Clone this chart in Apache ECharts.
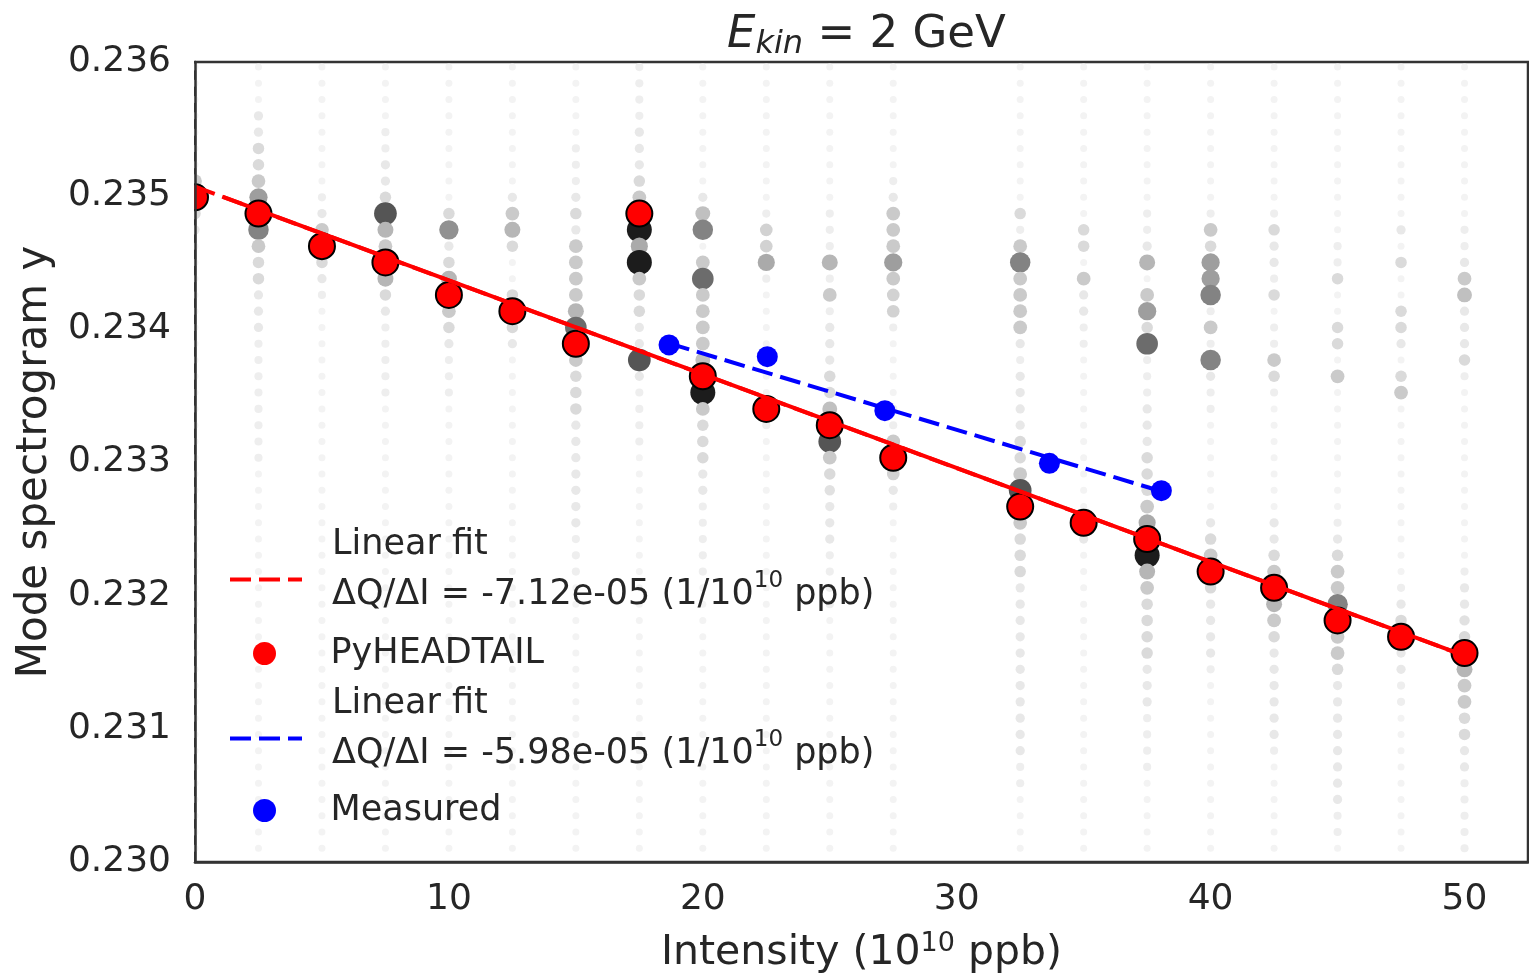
<!DOCTYPE html>
<html><head><meta charset="utf-8">
<script src="https://cdn.jsdelivr.net/npm/echarts@6/dist/echarts.min.js"></script>
<style>html,body{margin:0;padding:0;background:#fff}#c{width:1529px;height:976px}</style>
</head><body><div id="c"></div>
<script>
// Intensity columns of the spectrogram (10^10 ppb)
const intensityCols = [0,2.5,5,7.5,10,12.5,15,17.5,20,22.5,25,27.5,32.5,35,37.5,40,42.5,45,47.5,50];
// Tune bins of the spectrogram, top to bottom
const binTunes = [0.235962,0.235840,0.235718,0.235596,0.235474,0.235352,0.235229,0.235107,0.234985,0.234863,
  0.234741,0.234619,0.234497,0.234375,0.234253,0.234131,0.234009,0.233887,0.233765,0.233643,
  0.233521,0.233398,0.233276,0.233154,0.233032,0.232910,0.232788,0.232666,0.232544,0.232422,
  0.232300,0.232178,0.232056,0.231934,0.231812,0.231689,0.231567,0.231445,0.231323,0.231201,
  0.231079,0.230957,0.230835,0.230713,0.230591,0.230469,0.230347,0.230225,0.230103];
// Spectral amplitude level (1 faint .. 9 strong) per bin, one array per intensity column
const col_0    = [1,1,1,1,1,1,1,4,9,3, 2,1,1,1,1,1,1,1,1,1, 1,1,1,1,1,1,1,1,1,1, 1,1,1,1,1,1,1,1,1,1, 1,1,1,1,1,1,1,1,1];
const col_2_5  = [1,1,1,2,2,3,3,4,6,9, 7,4,3,3,2,2,2,1.5,1.5,1.5, 1.5,1.5,1.5,1.5,1.5,1,1,1,1,1, 1,1,1,1,1,1,1,1,1,1, 1,1,1,1,1,1,1,1,1];
const col_5    = [1,1,1,1,1,1,1,1,1.5,2, 4,9,3,2,1.5,1,1,1,1,1, 1,1,1,1,1,1,1,1,1,1, 1,1,1,1,1,1,1,1,1,1, 1,1,1,1,1,1,1,1,1];
const col_7_5  = [1,1,1,1,1.5,1.5,2,2,3,8, 5,4,9,5,3,2,1.5,1.5,1.5,1.5, 1.5,1,1,1,1,1,1,1,1,1, 1,1,1,1,1,1,1,1,1,1, 1,1,1,1,1,1,1,1,1];
const col_10   = [1,1,1,1,1,1,1,1,1,3, 6.5,2,3,5,9,4,3,2,1.5,1.5, 1.5,1,1,1,1,1,1,1,1,1, 1,1,1,1,1,1,1,1,1,1, 1,1,1,1,1,1,1,1,1];
const col_12_5 = [1,1,1,1,1,1,1,1,2,4, 5,3,1,1,3,9,3,2,1,1, 1,1,1,1,1,1,1,1,1,1, 1,1,1,1,1,1,1,1,1,1, 1,1,1,1,1,1,1,1,1];
const col_15   = [1,1,1,1,1,1.5,1.5,1.5,2,3, 2,4,4,4,4,5,7.5,9,4,3, 3,3,2,2,2,2,2,2,2,1.5, 1.5,1.5,1,1,1,1,1,1,1,1, 1,1,1,1,1,1,1,1,1];
const col_17_5 = [1.5,1.5,1.5,1.5,2,2,2,3,4,9, 9,5.5,9,4,3,3,2,2,8,2, 1.5,1.5,1.5,1.5,1,1,1,1,1,1, 1,1,1,1,1,1,1,1,1,1, 1,1,1,1,1,1,1,1,1];
const col_20   = [1,1,1,1,1,1,1,1,2,4.5, 7,1,4,7.5,4,4,4,4,4.5,9, 9,4,3,3,3,2,2,1.5,1.5,1.5, 1.5,1.5,1,1,1,1,1,1,1,1, 1,1,1,1,1,1,1,1,1];
const col_22_5 = [1,1,1,1,1,1,1,1,1,1.5, 3.5,3.5,5.5,1.5,1,1,1,1,1,1, 1,9,1.5,1,1,1,1,1,1,1, 1,1,1,1,1,1,1,1,1,1, 1,1,1,1,1,1,1,1,1];
const col_25   = [1,1,1,1,1,1,1,1,1,1.5, 1.5,1.5,5,1.5,4,1.5,2,2,2,3, 3,4.5,9,8,4,3,2.5,2,2,2, 1.5,1.5,1.5,1.5,1,1,1,1,1,1, 1,1,1,1,1,1,1,1,1];
const col_27_5 = [1,1,1,1,1,1,1,1.5,2,4, 4,4,6,4,3.5,3.5,1.5,1,1,1, 1,1.5,1.5,4,9,3.5,2,1.5,1,1, 1,1,1,1,1,1,1,1,1,1, 1,1,1,1,1,1,1,1,1];
const col_32_5 = [1,1,1,1,1,1,1,1,1,3, 1.5,4,7,4,4,4,4,2,1.5,2, 2,2,2,3,3,4,8,9,4,3, 3,3,2,2,2,2,2,2,2,2, 2,2,2,1.5,1.5,1,1,1,1];
const col_35   = [1,1,1,1,1,1,1,1,1,1, 3,3,1,4,2,2,1.5,1.5,1,1, 1,1,1,1,1,1,1,1,9,2, 1,1,1,1,1,1,1,1,1,1, 1,1,1,1,1,1,1,1,1];
const col_37_5 = [1,1,1,1,1,1,1,1,1,1.5, 1.5,2,5,1,4,6,3,7.5,1.5,1.5, 1.5,2,2,2,3,3,3,4,5.5,9, 9,5,4,3,3,3,3,2,2,2, 1.5,1.5,1.5,1.5,1,1,1,1,1];
const col_40   = [1,1,1,1,1,1,1,1,1,1.5, 4,3,6,6,7,1.5,4,1.5,7,2, 1.5,1.5,1,1,1,1,1,1,2,3, 4,9,3,2,2,2,2,1.5,1,1, 1,1,1,1,1,1,1,1,1];
const col_42_5 = [1,1,1,1,1,1,1,1,1,1.5, 3,2,2,1.5,3,1,1.5,1.5,4,3, 1.5,1,1,1,1,1,1,1,2,2, 3,4,9,5,4,3,2,2,2,2, 2,2,1.5,1,1,1,1,1,1];
const col_45   = [1,1,1,1,1,1,1,1,1,1, 1,1.5,1.5,3,1,1,3,3,1,4, 1,1,1,1,1,1,1,1,1.5,2, 3,4,4,7,9,4,4,3,2,2, 2,2,2,2,2,2,1.5,1.5,1];
const col_47_5 = [1,1,1,1,1,1,1,1,1,1, 2,1,3,1,1,3,3,2,1,3, 4,1,1,1,1,1,1,1,1,1, 1,1,1.5,2,3,9,2,2,1.5,1.5, 1,1,1,1,1,1,1,1,1];
const col_50   = [1,1,1,1,1,1,1,1,1,1, 1.5,1.5,2,4,4.5,2,2,2,3,1.5, 1,1,1,1,1,1,1,1,1,1, 1,1.5,2,2,2.5,3,9,5,4,4, 3,3,2,2,1.5,1.5,1.5,1.5,1.5];
const spectrogramCols = [col_0,col_2_5,col_5,col_7_5,col_10,col_12_5,col_15,col_17_5,col_20,col_22_5,
  col_25,col_27_5,col_32_5,col_35,col_37_5,col_40,col_42_5,col_45,col_47_5,col_50];

// PyHEADTAIL peak tunes
const pyheadtailX = [0,2.5,5,7.5,10,12.5,15,17.5,20,22.5,25,27.5,32.5,35,37.5,40,42.5,45,47.5,50];
const pyheadtailY = [0.234985,0.234863,0.234619,0.234497,0.234253,0.234131,0.233887,0.234863,0.233643,0.233398,
  0.233276,0.233032,0.232666,0.232544,0.232422,0.232178,0.232056,0.231812,0.231689,0.231567];
// Measured tunes
const measuredX = [18.67,22.54,27.17,33.65,38.06];
const measuredY = [0.233878,0.233790,0.233385,0.232990,0.232785];
// Linear fits
const simFitX = [0,50];
const simFitY = [0.235065,0.231547];
const simFitSolidX = [1.1,50];
const simFitSolidY = [0.234988,0.231547];
const measFitX = [18.67,38.06];
const measFitY = [0.233890,0.232780];

const yTicks = {min:0.230, max:0.236, step:0.001};
const xTicks = {min:0, max:52.5, step:10};

const specData = [];
spectrogramCols.forEach((col, c) => {
  col.forEach((lvl, i) => { if (lvl > 0) specData.push([intensityCols[c], binTunes[i], lvl]); });
});
const zip = (a, b) => a.map((v, i) => [v, b[i]]);

const TXT = '#262626';
const FONT = 'DejaVu Sans';
const legendRich = {
  t: {fontFamily: FONT, fontSize: 35, color: TXT, lineHeight: 50},
  s: {fontFamily: FONT, fontSize: 23, color: TXT, lineHeight: 26, verticalAlign: 'top'}
};
const legendLabel = function (n) {
  if (n === 'fitSim') return '{t|Linear fit}\n{t|ΔQ/ΔI = -7.12e-05 (1/10}{s|10}{t| ppb)}';
  if (n === 'fitMeas') return '{t|Linear fit}\n{t|ΔQ/ΔI = -5.98e-05 (1/10}{s|10}{t| ppb)}';
  return '{t|' + n + '}';
};
function legendFor(item, left, top, twoLine) {
  return {
    orient: 'vertical', left: left, top: top, padding: 0,
    itemWidth: 72, itemHeight: 23, selectedMode: false,
    data: [item], formatter: legendLabel,
    textStyle: {padding: twoLine ? [0, 0, 20, 25] : [0, 0, 0, 25], rich: legendRich}
  };
}
const chart = echarts.init(document.getElementById('c'), null, {renderer:'canvas'});
chart.setOption({
  animation: false,
  backgroundColor: '#fff',
  textStyle: {fontFamily: FONT, color: TXT},
  title: {
    text: '{e|E}{k|kin}{t| = 2 GeV}',
    left: 722, top: 4,
    textStyle: {
      fontWeight: 'normal',
      rich: {
        e: {fontFamily: FONT, fontSize: 45, fontStyle: 'italic', fontWeight: 'normal', color: TXT, lineHeight: 52, verticalAlign: 'middle'},
        k: {fontFamily: FONT, fontSize: 32, fontStyle: 'italic', fontWeight: 'normal', color: TXT, lineHeight: 20, verticalAlign: 'bottom'},
        t: {fontFamily: FONT, fontSize: 45, fontWeight: 'normal', color: TXT, lineHeight: 52, verticalAlign: 'middle'}
      }
    }
  },
  grid: {left: 195, right: 1, top: 62, bottom: 114, containLabel: false, outerBoundsMode: 'none',
    show: true, borderColor: '#333333', borderWidth: 2.5, backgroundColor: 'transparent'},
  xAxis: {
    type: 'value', min: xTicks.min, max: xTicks.max, interval: xTicks.step,
    splitLine: {show: false}, axisTick: {show: false},
    axisLine: {show: true, lineStyle: {color: '#333333', width: 2.5}},
    axisLabel: {color: TXT, fontFamily: FONT, fontSize: 36, margin: 20, showMaxLabel: false, formatter: v => String(v)},
    name: '{t|Intensity (10}{s|10}{t| ppb)}', nameLocation: 'middle', nameGap: 68,
    nameTextStyle: {rich: {
      t: {fontFamily: FONT, fontSize: 41, color: TXT, lineHeight: 46},
      s: {fontFamily: FONT, fontSize: 27, color: TXT, lineHeight: 20, verticalAlign: 'top'}
    }}
  },
  yAxis: {
    type: 'value', min: yTicks.min, max: yTicks.max, interval: yTicks.step, zlevel: 1, z: 10,
    splitLine: {show: false}, axisTick: {show: false},
    axisLine: {show: true, lineStyle: {color: '#333333', width: 2.5}},
    axisLabel: {color: TXT, fontFamily: FONT, fontSize: 36, margin: 24, formatter: v => v.toFixed(3)},
    name: 'Mode spectrogram y', nameLocation: 'middle', nameGap: 139, nameRotate: 90,
    nameTextStyle: {fontFamily: FONT, fontSize: 42, color: TXT}
  },
  visualMap: {
    type: 'continuous', show: false, seriesIndex: 0, dimension: 2, min: 1, max: 9,
    inRange: {
      color: ['#f3f3f3','#e8e8e8','#dadada','#cacaca','#b6b6b6','#9e9e9e','#838383','#555555','#1c1c1c'],
      symbolSize: [7, 25]
    }
  },
  legend: [
    legendFor({name: 'fitSim', itemStyle: {opacity: 0}, lineStyle: {width: 4, type: [21, 8], color: '#ff0000'}}, 228, 527, true),
    legendFor({name: 'PyHEADTAIL', itemStyle: {borderWidth: 0}}, 253, 636, false),
    legendFor({name: 'fitMeas', itemStyle: {opacity: 0}, lineStyle: {width: 4, type: [21, 8], color: '#0000ff'}}, 228, 686, true),
    legendFor({name: 'Measured'}, 253, 793, false)
  ],
  graphic: [{type: 'rect', left: 0, top: 30, zlevel: 1, z: 8, silent: true, shape: {width: 194, height: 832}, style: {fill: '#fff'}}],
  series: [
    {name: 'spectrogram', type: 'scatter', data: specData, symbol: 'circle', z: 1, silent: true,
     itemStyle: {opacity: 1}},
    {name: 'PyHEADTAIL', type: 'scatter', data: zip(pyheadtailX, pyheadtailY), symbol: 'circle', symbolSize: 26, z: 2,
     itemStyle: {color: '#ff0000', borderColor: '#000', borderWidth: 2, opacity: 1}},
    {name: 'Measured', type: 'scatter', data: zip(measuredX, measuredY), symbol: 'circle', symbolSize: 21, z: 3,
     itemStyle: {color: '#0000ff', opacity: 1}},
    {name: 'fitSim', type: 'line', data: zip(simFitX, simFitY), symbol: 'none', z: 4,
     lineStyle: {color: '#ff0000', width: 4, type: [21, 8]}, itemStyle: {color: '#ff0000'}},
    {name: 'fitSimSolid', type: 'line', data: zip(simFitSolidX, simFitSolidY), symbol: 'none', z: 4,
     lineStyle: {color: '#ff0000', width: 4}},
    {name: 'fitMeas', type: 'line', data: zip(measFitX, measFitY), symbol: 'none', z: 5,
     lineStyle: {color: '#0000ff', width: 4, type: [21, 8]}, itemStyle: {color: '#0000ff'}}
  ]
});
</script></body></html>
